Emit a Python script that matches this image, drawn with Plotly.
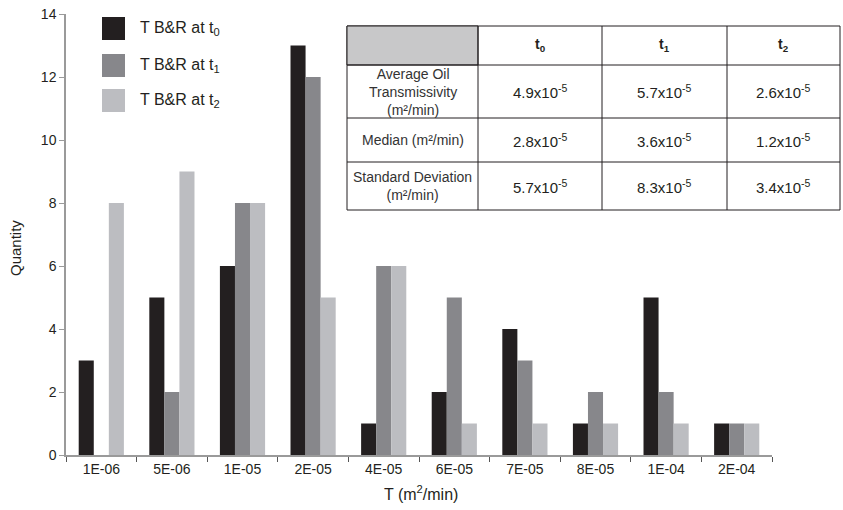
import plotly.graph_objects as go

categories = ["1E-06", "5E-06", "1E-05", "2E-05", "4E-05", "6E-05", "7E-05", "8E-05", "1E-04", "2E-04"]
t0_vals = [3, 5, 6, 13, 1, 2, 4, 1, 5, 1]
t1_vals = [0, 2, 8, 12, 6, 5, 3, 2, 2, 1]
t2_vals = [8, 9, 8, 5, 6, 1, 1, 1, 1, 1]
series_names = ["T B&R at t<sub>0</sub>", "T B&R at t<sub>1</sub>", "T B&R at t<sub>2</sub>"]
colors = ["#231f20", "#87878b", "#bcbdc1"]

table_cols = ["", "t<sub>0</sub>", "t<sub>1</sub>", "t<sub>2</sub>"]
table_rows = ["Average Oil<br>Transmissivity<br>(m²/min)", "Median (m²/min)", "Standard Deviation<br>(m²/min)"]
table_vals = [
    ["4.9x10<sup>-5</sup>", "5.7x10<sup>-5</sup>", "2.6x10<sup>-5</sup>"],
    ["2.8x10<sup>-5</sup>", "3.6x10<sup>-5</sup>", "1.2x10<sup>-5</sup>"],
    ["5.7x10<sup>-5</sup>", "8.3x10<sup>-5</sup>", "3.4x10<sup>-5</sup>"],
]

W, H = 843, 510
ML, MR, MT, MB = 66, 71, 14, 55
PW, PH = W - ML - MR, H - MT - MB

def px(x):
    return (x - ML) / PW

def py(y):
    return (H - MB - y) / PH

FONT = "Liberation Sans, Arial, sans-serif"

fig = go.Figure()
for name, vals, c in zip(series_names, [t0_vals, t1_vals, t2_vals], colors):
    fig.add_trace(go.Bar(x=categories, y=vals, name=name, marker=dict(color=c, line=dict(width=0)),
                         showlegend=False))

shapes = []
annotations = []

def ann(x, y, text, size, color="#231f20", xanchor="center", **kw):
    annotations.append(dict(xref="paper", yref="paper", x=px(x), y=py(y), text=text, showarrow=False,
                            xanchor=xanchor, yanchor="middle", font=dict(family=FONT, size=size, color=color), **kw))

# custom legend
leg_y = [28.5, 65.5, 100.5]
for i, (name, c) in enumerate(zip(series_names, colors)):
    yc = leg_y[i]
    shapes.append(dict(type="rect", xref="paper", yref="paper", x0=px(102), x1=px(125),
                       y0=py(yc + 11.5), y1=py(yc - 11.5), fillcolor=c, line=dict(width=0)))
    ann(138, yc, name, 16, xanchor="left")

# table
cx = [347, 478, 602, 727, 840]
ry = [26, 65, 118, 162, 210]
shapes.append(dict(type="rect", xref="paper", yref="paper", x0=px(cx[0]), x1=px(cx[-1]), y0=py(ry[-1]), y1=py(ry[0]),
                   fillcolor="white", line=dict(color="#231f20", width=1), layer="above"))
shapes.append(dict(type="rect", xref="paper", yref="paper", x0=px(cx[0]), x1=px(cx[1]), y0=py(ry[1]), y1=py(ry[0]),
                   fillcolor="#c8c8c9", line=dict(color="#231f20", width=1), layer="above"))
for x in cx[1:-1]:
    shapes.append(dict(type="line", xref="paper", yref="paper", x0=px(x), x1=px(x), y0=py(ry[-1]), y1=py(ry[0]),
                       line=dict(color="#231f20", width=1), layer="above"))
for y in ry[1:-1]:
    shapes.append(dict(type="line", xref="paper", yref="paper", x0=px(cx[0]), x1=px(cx[-1]), y0=py(y), y1=py(y),
                       line=dict(color="#231f20", width=1), layer="above"))
for j in range(1, 4):
    ann((cx[j] + cx[j + 1]) / 2, (ry[0] + ry[1]) / 2, "<b>" + table_cols[j] + "</b>", 14)
for i in range(3):
    yc = (ry[i + 1] + ry[i + 2]) / 2
    ann((cx[0] + cx[1]) / 2, yc, table_rows[i], 14, color="#333333", align="center")
    for j in range(3):
        ann((cx[j + 1] + cx[j + 2]) / 2, yc, table_vals[i][j], 15)

# axis titles
ann(421, 493, "T (m<sup>2</sup>/min)", 16)
ann(16, 248, "Quantity", 15, textangle=-90)

fig.update_layout(
    width=W, height=H,
    margin=dict(l=ML, r=MR, t=MT, b=MB, autoexpand=False),
    paper_bgcolor="white", plot_bgcolor="white",
    barmode="group", bargap=0.36, bargroupgap=0,
    font=dict(family=FONT, size=13, color="#231f20"),
    shapes=shapes, annotations=annotations,
    xaxis=dict(showline=True, linecolor="#9a9a9a", linewidth=1.5, ticks="outside", tickson="boundaries",
               ticklen=5, tickcolor="#555555", showgrid=False, automargin=False,
               tickfont=dict(size=14, color="#231f20")),
    yaxis=dict(range=[0, 14], dtick=2, showline=True, linecolor="#9a9a9a", linewidth=1.5, ticks="outside",
               ticklen=5, tickcolor="#9a9a9a", showgrid=False, zeroline=False, automargin=False,
               tickfont=dict(size=14, color="#231f20")),
)

fig.write_html("out.html")
